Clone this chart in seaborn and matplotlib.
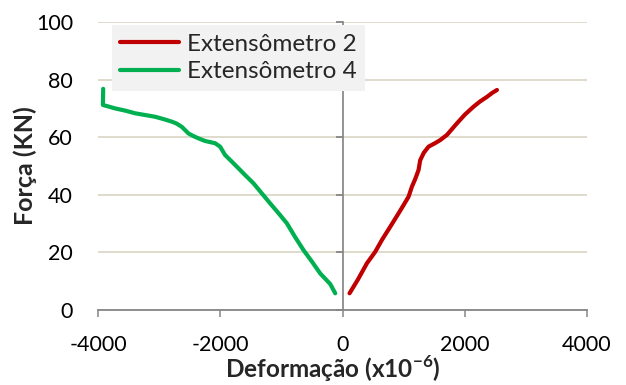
import matplotlib
matplotlib.use("Agg")
import matplotlib.pyplot as plt
import seaborn as sns
import pandas as pd

# Strain gauge readings: deformation (x10^-6) versus applied load (kN)
ext2_def = [115, 250, 399, 535, 650, 781, 930, 1080, 1135, 1190, 1244, 1271,
            1330, 1407, 1520, 1599, 1709, 1790, 1872, 2000, 2144, 2250, 2363,
            2450, 2527]
ext2_load = [5.8, 10.5, 16.2, 20.2, 24.5, 28.9, 34.0, 39.3, 42.8, 45.5, 48.6,
             52.0, 54.6, 56.7, 58.0, 59.0, 60.8, 62.8, 64.8, 67.8, 70.6, 72.4,
             74.0, 75.4, 76.4]

ext4_def = [-119, -200, -365, -500, -638, -780, -910, -1050, -1183, -1320,
            -1457, -1600, -1702, -1810, -1920, -2002, -2083, -2250, -2357,
            -2450, -2520, -2629, -2720, -2793, -2930, -3066, -3230, -3393,
            -3550, -3720, -3920, -3915]
ext4_load = [5.8, 9.0, 12.7, 16.8, 20.8, 25.5, 30.1, 33.7, 37.0, 40.5, 44.0,
             47.0, 49.2, 51.5, 53.8, 56.7, 57.9, 58.7, 59.6, 60.5, 61.3, 63.6,
             64.8, 65.4, 66.3, 67.1, 67.7, 68.3, 69.2, 70.0, 71.2, 76.8]

series_names = ["Extensômetro 2", "Extensômetro 4"]
series_colors = ["#C00000", "#00B050"]

x_ticks = [-4000, -2000, 0, 2000, 4000]
y_ticks = [0, 20, 40, 60, 80, 100]

df = pd.concat([
    pd.DataFrame({"def": ext2_def, "load": ext2_load, "serie": series_names[0]}),
    pd.DataFrame({"def": ext4_def, "load": ext4_load, "serie": series_names[1]}),
], ignore_index=True)

sns.set_theme(style="white")
plt.rcParams["font.family"] = ["Lato", "DejaVu Sans"]
plt.rcParams["axes.unicode_minus"] = False
plt.rcParams["mathtext.fontset"] = "custom"
plt.rcParams["mathtext.rm"] = "Lato"
plt.rcParams["mathtext.bf"] = "Lato:bold"

gray = "#868686"
grid_c = "#D9D5C3"

fig = plt.figure(figsize=(6.26, 3.85), dpi=100)
ax = fig.add_axes([98 / 626, 1 - 310 / 385, 489 / 626, 288 / 385])

sns.lineplot(data=df, x="def", y="load", hue="serie", palette=series_colors,
             hue_order=series_names, sort=False, estimator=None,
             linewidth=3, ax=ax)

ax.set_xlim(-4000, 4000)
ax.set_ylim(0, 100)
ax.set_xticks(x_ticks)
ax.set_yticks(y_ticks)
ax.yaxis.grid(True, color=grid_c, linewidth=1.2)
ax.xaxis.grid(False)
ax.set_axisbelow(True)

for s in ["top", "right", "left"]:
    ax.spines[s].set_visible(False)
ax.spines["bottom"].set_color(gray)
ax.spines["bottom"].set_linewidth(1.3)
ax.spines["bottom"].set_zorder(3)

ax.tick_params(axis="x", direction="out", length=5, width=1.1, color=gray,
               labelsize=15.5, labelcolor="black", pad=13, bottom=True)
ax.tick_params(axis="y", length=0, labelsize=15.5, labelcolor="black", pad=18)

# Vertical axis line through zero deformation, with its own tick marks
sec = ax.secondary_yaxis(0.5)
sec.set_zorder(4)
sec.set_yticks(y_ticks)
sec.set_color(gray)
sec.spines["left"].set_linewidth(1.3)
sec.tick_params(axis="y", which="both", direction="out", length=5, width=1.3,
                colors=gray, left=True, right=False,
                labelleft=False, labelright=False)

ax.set_xlabel(r"Deformação (x10$^{\mathbf{-6}}$)", fontsize=17.5,
              fontweight="bold", va="baseline")
ax.xaxis.set_label_coords(0.48, -0.237)
ax.set_ylabel("Força (KN)", fontsize=18, fontweight="bold")
ax.yaxis.set_label_coords(-0.125, 0.5)

handles, labels = ax.get_legend_handles_labels()
leg = ax.legend(handles, labels, loc="upper left",
                bbox_to_anchor=(0.028, 0.988), fontsize=17.5, frameon=True,
                fancybox=False, facecolor="#F2F2F2", edgecolor="none",
                framealpha=1, handlelength=2.4, handletextpad=0.35,
                borderpad=0.35, labelspacing=0.25, borderaxespad=0)
for line in leg.get_lines():
    line.set_linewidth(3)

fig.savefig("out.png", dpi=100)
